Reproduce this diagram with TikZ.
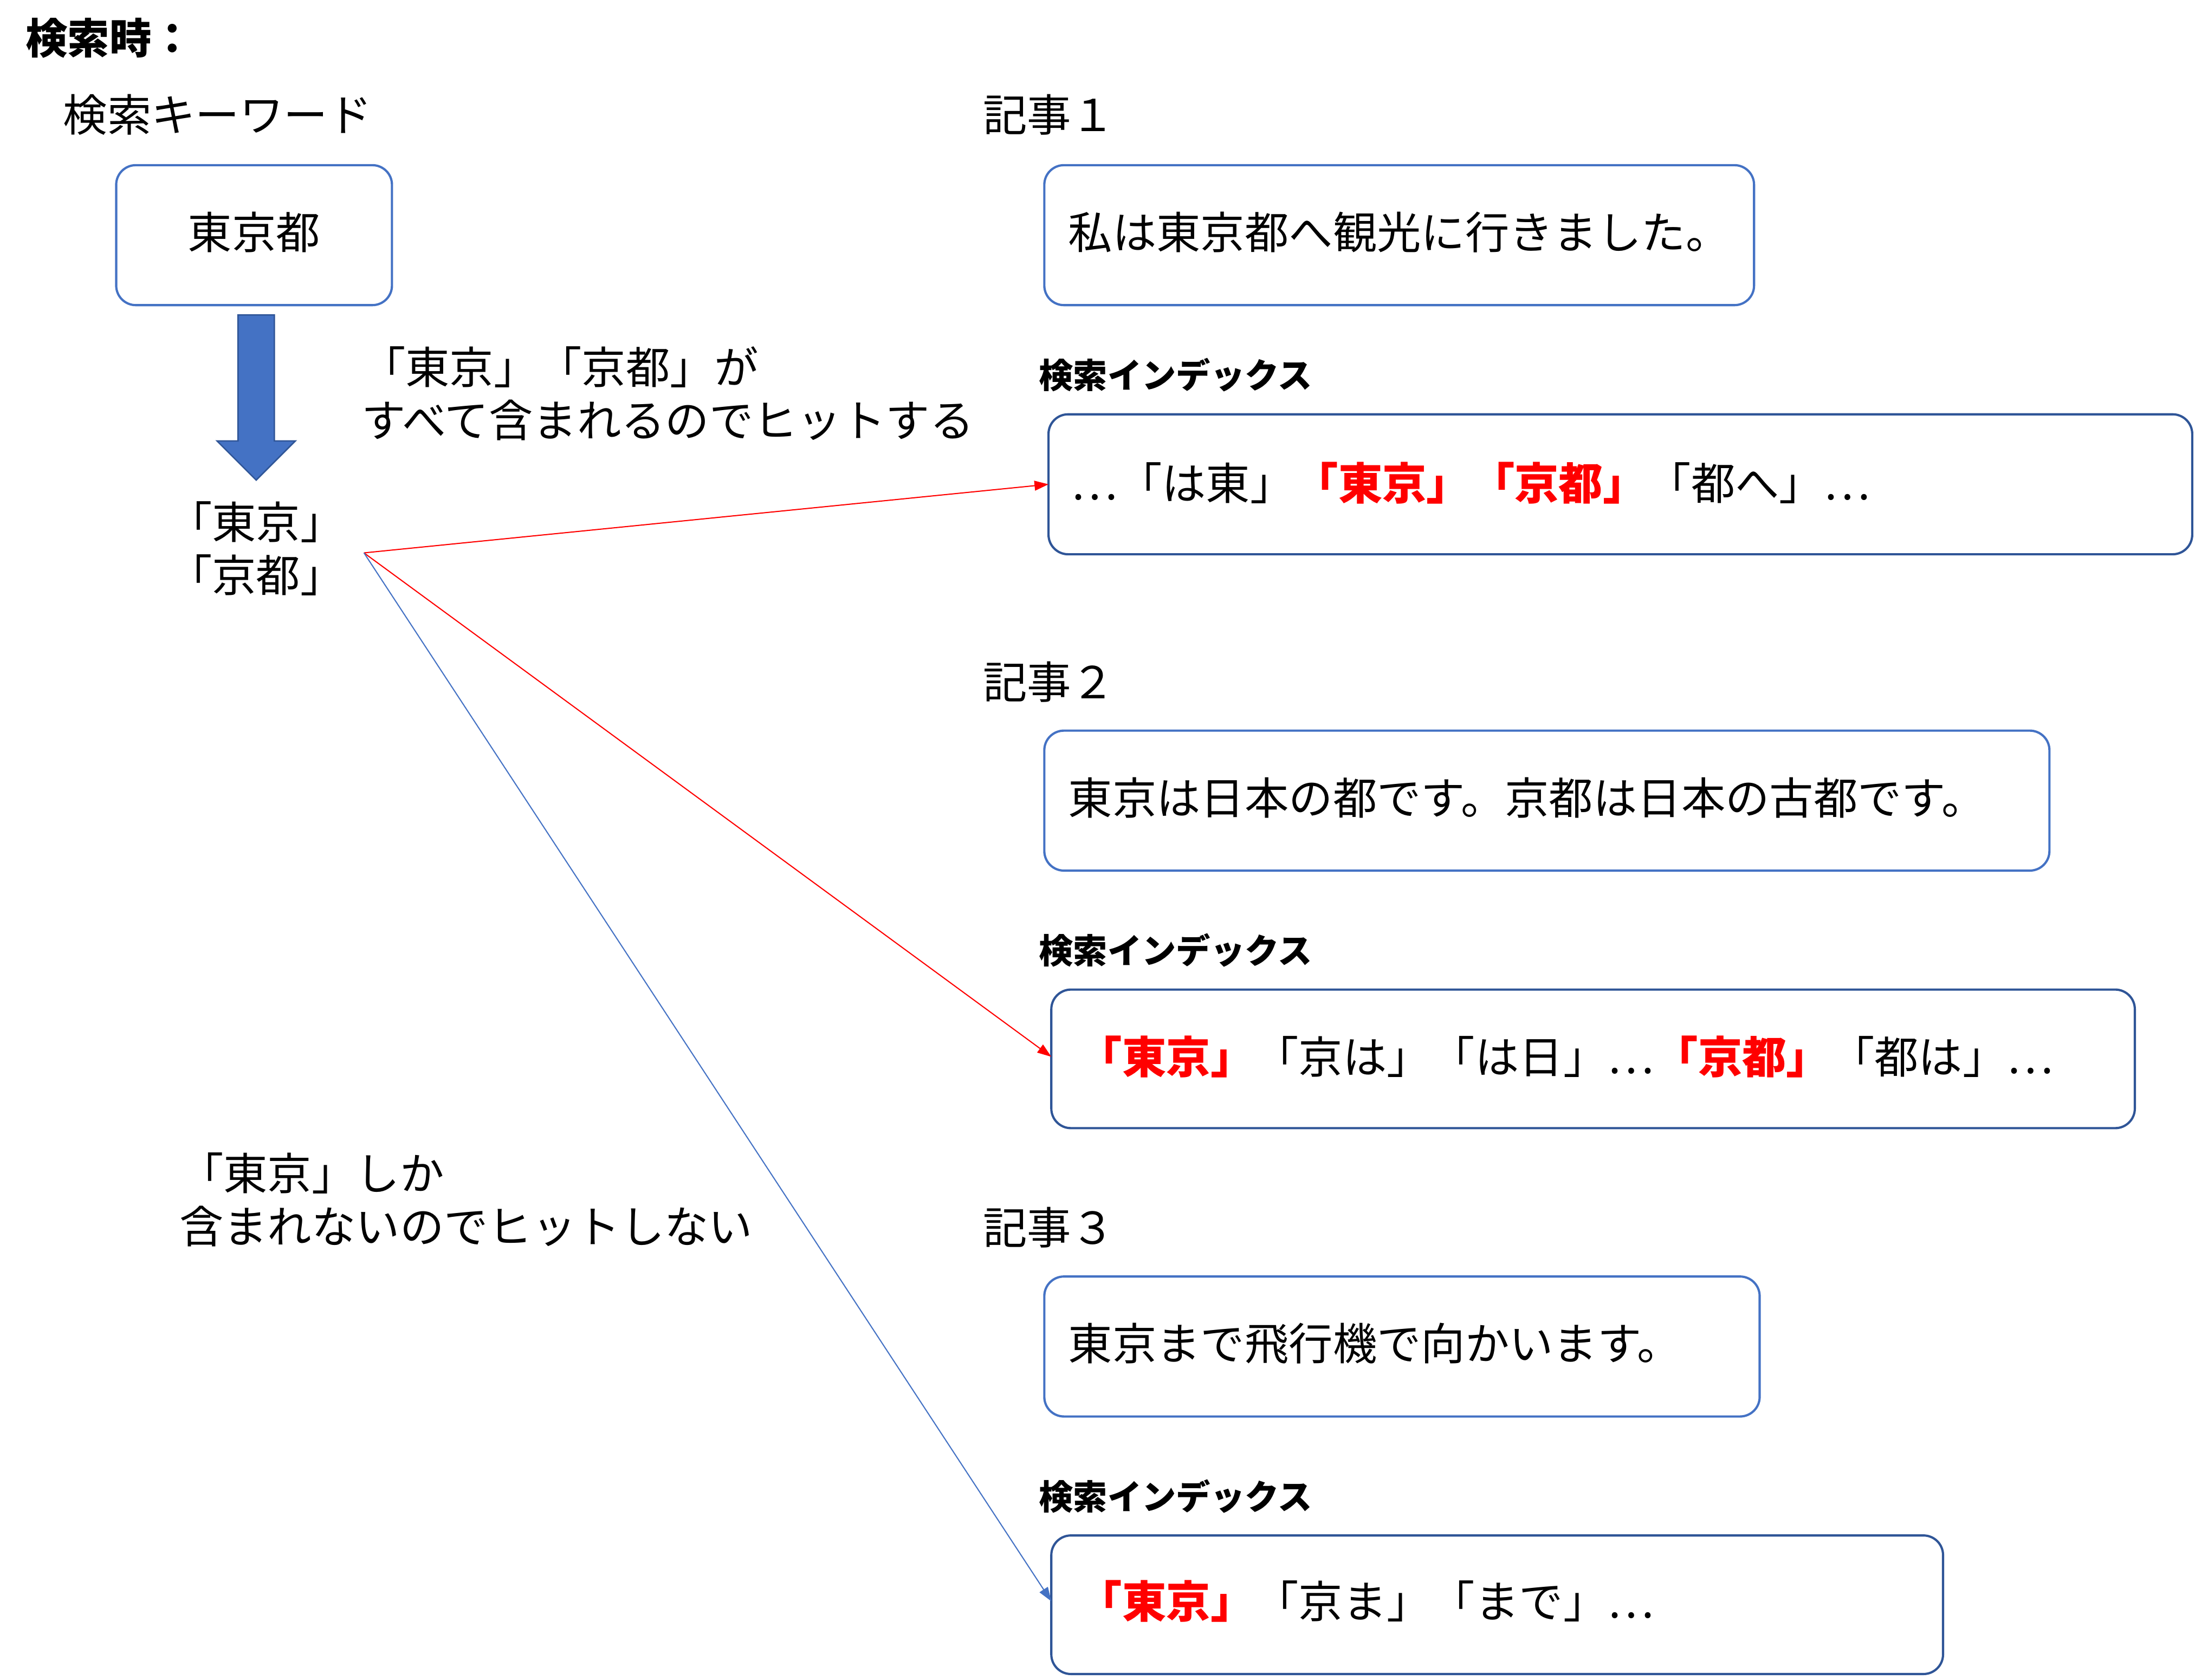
\documentclass[tikz,border=0pt]{standalone}
\usepackage{fontspec}
\setmainfont{Noto Sans CJK JP}
\usetikzlibrary{arrows.meta}
\definecolor{lb}{HTML}{4472C4}
\definecolor{db}{HTML}{2F5597}
\begin{document}
\begin{tikzpicture}[x=1pt,y=-1pt,
 t/.style={anchor=west,inner sep=0pt,font=\fontsize{31.5}{38}\selectfont},
 lab/.style={anchor=west,inner sep=0pt,font=\fontsize{24.5}{28}\selectfont\bfseries},
 art/.style={draw=lb,line width=1.6pt,rounded corners=14pt},
 idx/.style={draw=db,line width=1.6pt,rounded corners=14pt},
 hit/.style={-{Triangle[length=10pt,width=7pt]},line width=0.8pt}]
\useasboundingbox (0,0) rectangle (1568,1200);
\newcommand{\R}[1]{\textcolor{red}{\bfseries #1}}
\node[t,font=\fontsize{30}{38}\selectfont\bfseries] (ttl) at (18,27) {検索時：};
\node[t] (kw) at (45,82) {検索キーワード};
\draw[art] (83,118) rectangle (280,218);
\node[t,anchor=center] (tk) at (181.5,166) {東京都};
\draw[fill=lb,draw=db,line width=1pt] (170,225) -- (196,225) -- (196,315) -- (211,315) -- (183,343) -- (155,315) -- (170,315) -- cycle;
\node[t,anchor=center,align=left] (bg) at (183,392) {「東京」\\「京都」};
\coordinate (src) at (260,395);
\node[t,align=left] (c1) at (258,281) {「東京」「京都」が\\すべて含まれるのでヒットする};
\node[t,align=left] (c2) at (128,857) {「東京」しか\\含まれないのでヒットしない};
% article 1
\node[t] (a1) at (702,82) {記事１};
\draw[art] (746,118) rectangle (1253,218);
\node[t] (a1t) at (763,166) {私は東京都へ観光に行きました。};
\node[lab] (l1) at (742,268) {検索インデックス};
\draw[idx] (749,296) rectangle (1566,396);
\coordinate (i1) at (749,346);
\node[t] (i1t) at (765,345) {…「は東」\R{「東京」「京都」}「都へ」…};
% article 2
\node[t] (a2) at (702,487) {記事２};
\draw[art] (746,522) rectangle (1464,622);
\node[t] (a2t) at (763,570) {東京は日本の都です。京都は日本の古都です。};
\node[lab] (l2) at (742,679) {検索インデックス};
\draw[idx] (751,707) rectangle (1525,806);
\coordinate (i2) at (751,755);
\node[t] (i2t) at (770,755) {\R{「東京」}「京は」「は日」…\R{「京都」}「都は」…};
% article 3
\node[t] (a3) at (702,877) {記事３};
\draw[art] (746,912) rectangle (1257,1012);
\node[t] (a3t) at (763,960) {東京まで飛行機で向かいます。};
\node[lab] (l3) at (742,1069) {検索インデックス};
\draw[idx] (751,1097) rectangle (1388,1196);
\coordinate (i3) at (751,1144);
\node[t] (i3t) at (770,1144) {\R{「東京」}「京ま」「まで」…};
\draw[hit,red] (src) -- (i1);
\draw[hit,red] (src) -- (i2);
\draw[hit,lb] (src) -- (i3);
\end{tikzpicture}
\end{document}
